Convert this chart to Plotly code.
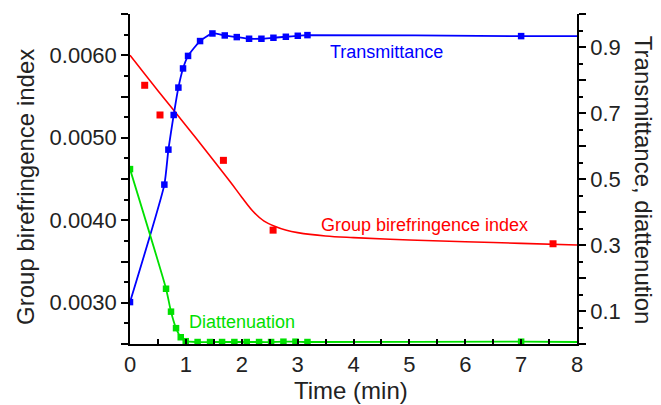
import plotly.graph_objects as go

# ---- data -------------------------------------------------------------
# Transmittance (right axis), measured points
trans_t = [0.0, 0.615, 0.687, 0.782, 0.866, 0.949, 1.039, 1.254, 1.475, 1.696,
           1.911, 2.131, 2.352, 2.567, 2.789, 3.003, 3.176, 7.0]
trans_v = [0.127, 0.483, 0.589, 0.694, 0.777, 0.835, 0.873, 0.918, 0.941, 0.935,
           0.930, 0.925, 0.925, 0.928, 0.931, 0.934, 0.936, 0.933]
trans_end_t = 8.0
trans_end_v = 0.933

# Diattenuation (right axis), measured points
diat_t = [0.0, 0.645, 0.734, 0.824, 0.908, 0.997, 1.21, 1.433, 1.648, 1.868,
          2.09, 2.31, 2.525, 2.746, 2.961, 3.176, 7.0]
diat_v = [0.530, 0.1675, 0.098, 0.048, 0.0205, 0.0085, 0.006, 0.006, 0.006, 0.006,
          0.006, 0.006, 0.006, 0.007, 0.007, 0.006, 0.007]
diat_end_t = 8.0
diat_end_v = 0.006

# Group birefringence index (left axis), measured points
gbi_t = [0.263, 0.537, 1.672, 2.561, 7.571]
gbi_v = [0.005636, 0.005276, 0.004726, 0.003880, 0.003715]

# Group birefringence index, fitted curve
gbi_fit_t = [0.0, 0.5, 1.0, 1.5, 1.8, 2.0, 2.2, 2.4, 2.6, 2.8, 3.0, 3.5,
             4.0, 5.0, 6.0, 7.0, 8.0]
gbi_fit_v = [0.00600, 0.00557, 0.00515, 0.00472, 0.00446, 0.00428, 0.00411,
             0.00399, 0.003925, 0.003878, 0.00385, 0.00381, 0.00379, 0.00376,
             0.00374, 0.00372, 0.00370]

# axis ticks
x_ticks = [0, 1, 2, 3, 4, 5, 6, 7, 8]
left_tickvals = [0.0025, 0.0030, 0.0035, 0.0040, 0.0045, 0.0050, 0.0055, 0.0060, 0.0065]
left_ticktext = ["", "0.0030", "", "0.0040", "", "0.0050", "", "0.0060", ""]
right_tickvals = [0.0, 0.1, 0.2, 0.3, 0.4, 0.5, 0.6, 0.7, 0.8, 0.9, 1.0]
right_ticktext = ["", "0.1", "", "0.3", "", "0.5", "", "0.7", "", "0.9", ""]

BLUE = "#0000ff"
RED = "#ff0000"
GREEN = "#00e000"
FONT = "Liberation Sans, Arial, sans-serif"

fig = go.Figure()

# fitted birefringence curve + points (left axis)
fig.add_trace(go.Scatter(x=gbi_fit_t, y=gbi_fit_v, mode="lines",
                         line=dict(color=RED, width=1.6, shape="spline", smoothing=1.0),
                         yaxis="y", showlegend=False, hoverinfo="skip"))
fig.add_trace(go.Scatter(x=gbi_t, y=gbi_v, mode="markers",
                         marker=dict(symbol="square", size=7, color=RED),
                         yaxis="y", showlegend=False))

# transmittance (right axis)
fig.add_trace(go.Scatter(x=trans_t + [trans_end_t], y=trans_v + [trans_end_v], mode="lines",
                         line=dict(color=BLUE, width=1.8, shape="spline", smoothing=0.5),
                         yaxis="y2", showlegend=False, hoverinfo="skip"))
fig.add_trace(go.Scatter(x=trans_t, y=trans_v, mode="markers",
                         marker=dict(symbol="square", size=6.5, color=BLUE),
                         yaxis="y2", showlegend=False))

# diattenuation (right axis)
fig.add_trace(go.Scatter(x=diat_t + [diat_end_t], y=diat_v + [diat_end_v], mode="lines",
                         line=dict(color=GREEN, width=1.8, shape="spline", smoothing=0.5),
                         yaxis="y2", showlegend=False, hoverinfo="skip"))
fig.add_trace(go.Scatter(x=diat_t, y=diat_v, mode="markers",
                         marker=dict(symbol="square", size=6.5, color=GREEN),
                         yaxis="y2", showlegend=False))

axis_common = dict(showline=True, linecolor="black", linewidth=1.5, showgrid=False,
                   zeroline=False, tickcolor="black", tickwidth=1.5,
                   tickfont=dict(family=FONT, size=22, color="#222"))

fig.update_layout(
    width=661, height=405,
    margin=dict(l=130, r=84, t=14, b=61),
    paper_bgcolor="white", plot_bgcolor="white",
    font=dict(family=FONT, color="#222"),
    xaxis=dict(range=[0, 8], tickvals=x_ticks, ticks="inside", ticklen=5,
               minor=dict(dtick=0.5, tick0=0, ticks="inside", ticklen=5,
                          tickcolor="black", tickwidth=1.5, showgrid=False),
               **axis_common),
    yaxis=dict(range=[0.0025, 0.0065], tickvals=left_tickvals, ticktext=left_ticktext,
               ticks="outside", ticklen=7,
               minor=dict(dtick=0.00025, tick0=0.0025, ticks="outside", ticklen=4,
                          tickcolor="black", tickwidth=1.5, showgrid=False),
               **axis_common),
    yaxis2=dict(range=[0, 1.0], overlaying="y", side="right", anchor="x",
                tickvals=right_tickvals, ticktext=right_ticktext,
                ticks="outside", ticklen=7,
                minor=dict(dtick=0.05, tick0=0, ticks="outside", ticklen=4,
                           tickcolor="black", tickwidth=1.5, showgrid=False),
                **axis_common),
)

title_font = dict(family=FONT, size=24, color="#222")
label_font = dict(family=FONT, size=18)

fig.add_annotation(text="Time (min)", xref="paper", yref="paper", x=0.494, y=-0.14,
                   showarrow=False, font=title_font, xanchor="center", yanchor="middle")
fig.add_annotation(text="Group birefringence index", xref="paper", yref="paper",
                   x=-0.2327, y=0.476, textangle=-90, showarrow=False, font=title_font,
                   xanchor="center", yanchor="middle")
fig.add_annotation(text="Transmittance, diattenution", xref="paper", yref="paper",
                   x=1.148, y=0.497, textangle=90, showarrow=False, font=title_font,
                   xanchor="center", yanchor="middle")

fig.add_annotation(text="Transmittance", xref="x", yref="y2", x=3.54, y=0.885,
                   showarrow=False, font=dict(color=BLUE, **label_font),
                   xanchor="left", yanchor="middle")
fig.add_annotation(text="Group birefringence index", xref="x", yref="y2", x=7.165, y=0.362,
                   showarrow=False, font=dict(color=RED, **label_font),
                   xanchor="right", yanchor="middle")
fig.add_annotation(text="Diattenuation", xref="x", yref="y2", x=1.026, y=0.067,
                   showarrow=False, font=dict(color=GREEN, **label_font),
                   xanchor="left", yanchor="middle")

fig.write_html("out.html")
